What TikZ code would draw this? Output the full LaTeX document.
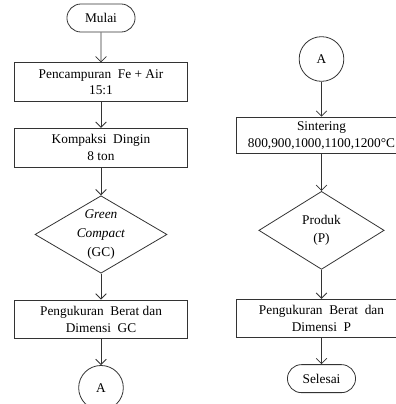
\documentclass[tikz,border=0pt]{standalone}
\usepackage{fontspec}
\setmainfont{Liberation Serif}
\usepackage{tikz}
\usetikzlibrary{shapes.geometric, shapes.misc, arrows.meta, positioning}
\tikzstyle{term} = [rounded rectangle, minimum width=57.75pt, minimum height=21pt, text centered, draw=black!80, font=\fontsize{10}{12}\selectfont]
\tikzstyle{proc} = [rectangle, minimum width=129.75pt, minimum height=29pt, align=center, draw=black!80, font=\fontsize{10}{12.5}\selectfont]
\tikzstyle{dec} = [diamond, aspect=1.7, inner sep=0pt, minimum width=99pt, minimum height=57pt, align=center, draw=black!80, font=\fontsize{10}{14}\selectfont]
\tikzstyle{conn} = [circle, minimum size=33.5pt, inner sep=0pt, draw=black!80, font=\fontsize{10}{12}\selectfont]
\tikzstyle{arr} = [-{Straight Barb[length=4pt, width=8pt]}, draw=black!80, line width=0.6pt]

\begin{document}
\begin{tikzpicture}[x=0.75pt, y=-0.75pt, line width=0.6pt]
  \useasboundingbox (0,0) rectangle (396,404);
  % left column
  \node[term] (mulai) at (101,18) {Mulai};
  \node[proc, below=22.5pt of mulai] (campur) {Pencampuran\ \ Fe + Air\\15:1};
  \node[proc, below=19.5pt of campur] (kompaksi) {Kompaksi\ \ Dingin\\8 ton};
  \node[dec, below=21pt of kompaksi] (gc) {\textit{Green}\\\textit{Compact}\\(GC)};
  \node[proc, below=19.5pt of gc] (ukurgc) {Pengukuran\ \ Berat\ dan\\Dimensi\ \ GC};
  \node[conn, below=19.5pt of ukurgc] (a1) {A};
  % right column
  \node[conn] (a2) at (321.5,59) {A};
  \node[proc, minimum width=127.5pt, minimum height=27pt, below=26.25pt of a2] (sinter) {Sintering\\800,900,1000,1100,1200°C};
  \node[dec, minimum width=94pt, minimum height=58.5pt, below=27.75pt of sinter] (prod) {Produk\\(P)};
  \node[proc, minimum width=127.5pt, below=21.75pt of prod] (ukurp) {Pengukuran\ \ Berat\ \ dan\\Dimensi\ \ P};
  \node[term, below=19.5pt of ukurp] (selesai) {Selesai};
  \draw[arr] (mulai) -- (campur);
  \draw[arr] (campur) -- (kompaksi);
  \draw[arr] (kompaksi) -- (gc);
  \draw[arr] (gc) -- (ukurgc);
  \draw[arr] (ukurgc) -- (a1);
  \draw[arr] (a2) -- (sinter);
  \draw[arr] (sinter) -- (prod);
  \draw[arr] (prod) -- (ukurp);
  \draw[arr] (ukurp) -- (selesai);
\end{tikzpicture}
\end{document}
